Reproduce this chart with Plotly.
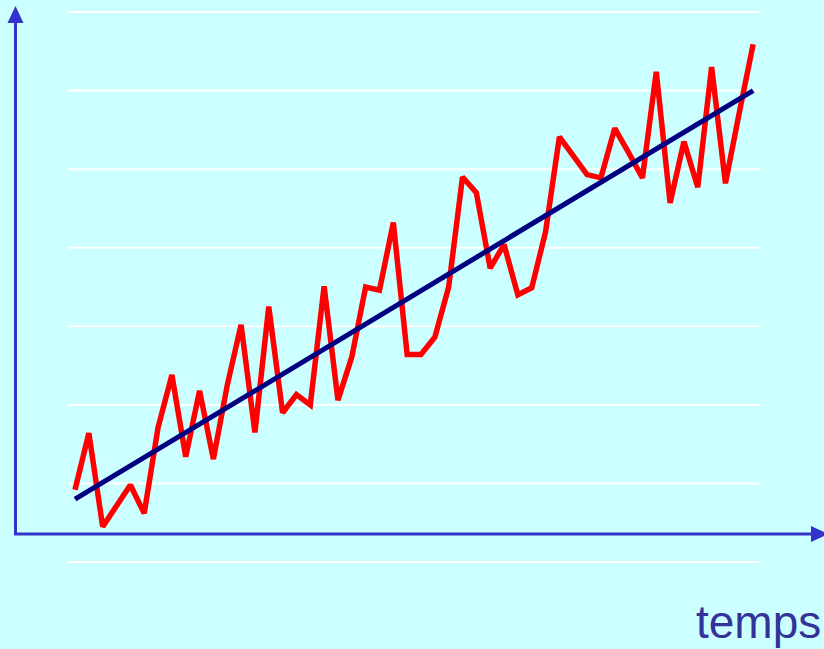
import plotly.graph_objects as go

# ---- data ----
periods = list(range(1, 51))
series_values = [9.2, 16.4, 4.5, 7.1, 9.8, 6.2, 17.1, 23.8, 13.4, 21.8,
                 13.1, 22.5, 30.2, 16.5, 32.5, 19.0, 21.3, 20.0, 35.1, 20.6,
                 26.1, 35.0, 34.6, 43.2, 26.4, 26.4, 28.6, 35.0, 49.0, 47.0,
                 37.4, 40.4, 34.0, 34.9, 42.0, 54.1, 51.7, 49.3, 48.9, 55.2,
                 52.1, 48.9, 62.4, 45.7, 53.5, 47.7, 63.0, 48.2, 57.2, 65.9]
trend_x = [1, 50]
trend_y = [8.0, 60.0]
grid_levels = [0, 10, 20, 30, 40, 50, 60, 70]
axis_label = "temps"

W, H = 824, 649
BG = "#CCFFFF"
AXIS_COL = "#3333CC"

def fx(p):  # pixel -> paper x
    return p / W

def fy(p):  # pixel -> paper y
    return 1 - p / H

fig = go.Figure()

fig.add_trace(go.Scatter(x=periods, y=series_values, mode="lines",
                         line=dict(color="#FF0000", width=5.5), hoverinfo="skip"))
fig.add_trace(go.Scatter(x=trend_x, y=trend_y, mode="lines",
                         line=dict(color="#000080", width=5), hoverinfo="skip"))

shapes = []
for g in grid_levels:
    shapes.append(dict(type="line", xref="x", yref="y", x0=0.5, x1=50.5, y0=g, y1=g,
                       line=dict(color="white", width=2), layer="below"))

# axes arrows
shapes.append(dict(type="line", xref="paper", yref="paper",
                   x0=fx(15.5), x1=fx(15.5), y0=fy(535), y1=fy(20),
                   line=dict(color=AXIS_COL, width=3)))
shapes.append(dict(type="path", xref="paper", yref="paper",
                   path=f"M {fx(7.5)},{fy(23)} L {fx(15.5)},{fy(6)} L {fx(23.5)},{fy(23)} Z",
                   fillcolor=AXIS_COL, line=dict(color=AXIS_COL, width=0)))
shapes.append(dict(type="line", xref="paper", yref="paper",
                   x0=fx(14), x1=fx(815), y0=fy(534), y1=fy(534),
                   line=dict(color=AXIS_COL, width=3)))
shapes.append(dict(type="path", xref="paper", yref="paper",
                   path=f"M {fx(811)},{fy(526)} L {fx(828)},{fy(534)} L {fx(811)},{fy(542)} Z",
                   fillcolor=AXIS_COL, line=dict(color=AXIS_COL, width=0)))

fig.update_layout(
    width=W, height=H, autosize=False,
    margin=dict(l=0, r=0, t=0, b=0),
    paper_bgcolor=BG, plot_bgcolor=BG,
    showlegend=False,
    shapes=shapes,
    xaxis=dict(range=[-4.42, 55.12], visible=False, fixedrange=True),
    yaxis=dict(range=[-11.07, 71.53], visible=False, fixedrange=True),
    annotations=[dict(text=axis_label, xref="paper", yref="paper",
                      x=fx(822), y=0, xanchor="right", yanchor="bottom",
                      showarrow=False, borderpad=0,
                      font=dict(family="Liberation Sans, Arial, sans-serif",
                                size=46, color="#333399"))],
)

fig.write_html("out.html", config={"displayModeBar": False, "staticPlot": True},
               post_script="document.body.style.margin='0';document.body.style.overflow='hidden';")
